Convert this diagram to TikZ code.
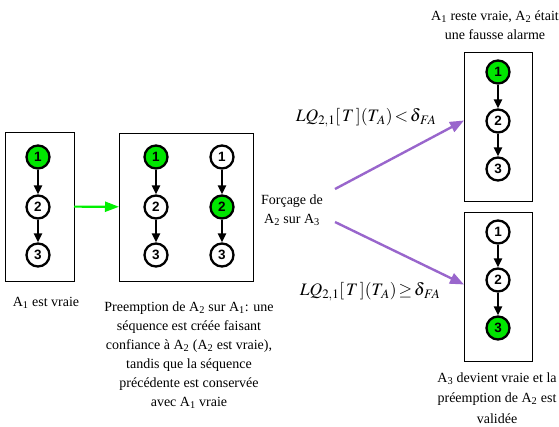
\documentclass[tikz,border=0pt]{standalone}
\usepackage{mathptmx}
\usepackage{fontspec}
\setmainfont{Liberation Serif}
\newfontfamily\statefont{Liberation Sans}
\usetikzlibrary{arrows.meta}

\definecolor{stategreen}{RGB}{0,230,0}
\definecolor{arrowgreen}{RGB}{0,240,0}
\definecolor{forcepurple}{RGB}{153,102,204}

\newcommand{\Asub}[1]{A\textsubscript{#1}}

\tikzset{
    state/.style={circle, draw, line width=2.3pt, minimum size=23pt, inner sep=0pt, fill=white,
        font=\statefont\bfseries\fontsize{13.5}{13.5}\selectfont},
    active/.style={state, fill=stategreen},
    panel/.style={draw, line width=0.9pt, inner sep=0pt, outer sep=0pt,
        minimum width=69pt, minimum height=149pt},
    link/.style={-{Triangle[length=9pt, width=8pt]}, line width=2.3pt},
    caption/.style={align=center, font=\fontsize{14}{19}\selectfont},
    formula/.style={font=\fontsize{17.5}{19}\selectfont},
}

\begin{document}
\begin{tikzpicture}[x=1pt, y=-1pt]
    \useasboundingbox (0,0) rectangle (559,426);

    % panels
    \node[panel] (box1) at (39.5, 206.5) {};
    \node[panel, minimum width=134pt, minimum height=148pt] (box2) at (186, 207) {};
    \node[panel, minimum width=68pt] (box3) at (498, 126.5) {};
    \node[panel, minimum width=68pt] (box4) at (498, 286.5) {};

    % A1 vraie
    \node[active] (p1) at (38, 157) {1};
    \node[state] (p2) at (38, 207) {2};
    \node[state] (p3) at (38, 255) {3};
    \draw[link] (p1) -- (p2);
    \draw[link] (p2) -- (p3);

    % preemption : deux sequences
    \node[active] (q1) at (156, 157) {1};
    \node[state] (q2) at (156, 207) {2};
    \node[state] (q3) at (156, 255) {3};
    \draw[link] (q1) -- (q2);
    \draw[link] (q2) -- (q3);
    \node[state] (r1) at (222, 157) {1};
    \node[active] (r2) at (222, 207) {2};
    \node[state] (r3) at (222, 255) {3};
    \draw[link] (r1) -- (r2);
    \draw[link] (r2) -- (r3);

    % fausse alarme
    \node[active] (s1) at (498, 72) {1};
    \node[state] (s2) at (498, 121) {2};
    \node[state] (s3) at (498, 169) {3};
    \draw[link] (s1) -- (s2);
    \draw[link] (s2) -- (s3);

    % preemption validee
    \node[state] (t1) at (498, 232) {1};
    \node[state] (t2) at (498, 280) {2};
    \node[active] (t3) at (498, 328) {3};
    \draw[link] (t1) -- (t2);
    \draw[link] (t2) -- (t3);

    % textes
    \node[caption] (cap1) at (46, 303) {\Asub{1} est vraie};
    \node[caption] (cap2) at (189, 355) {Preemption de \Asub{2} sur \Asub{1}: une\\
        séquence est créée faisant\\ confiance à \Asub{2} (\Asub{2} est vraie),\\
        tandis que la séquence\\ précédente est conservée\\ avec \Asub{1} vraie};
    \node[caption] (cap3) at (495, 25) {\Asub{1} reste vraie, \Asub{2} était\\ une fausse alarme};
    \node[caption, font=\fontsize{14}{20.5}\selectfont] (cap4) at (497, 398)
        {\Asub{3} devient vraie et la\\ préemption de \Asub{2} est\\ validée};
    \node[caption] (force) at (292, 210) {Forçage de\\ \Asub{2} sur \Asub{3}};
    \node[formula] (lqlow) at (366, 118) {$LQ_{2,1}[\,T\,](T_{\,A})\mskip2mu{<}\mskip2mu\delta_{\,FA}$};
    \node[formula] (lqhigh) at (370, 292) {$LQ_{2,1}[\,T\,](T_{\,A})\mskip2mu{\geq}\mskip2mu\delta_{\,FA}$};

    % fleches
    \draw[-{Triangle[length=14pt, width=10pt]}, line width=2.2pt, arrowgreen] (box1) -- (box2);
    \coordinate (fu) at (335, 189);
    \coordinate (fd) at (335, 222);
    \draw[-{Triangle[length=14pt, width=11pt]}, line width=2.4pt, forcepurple] (fu) -- ([yshift=6pt]box3.west);
    \draw[-{Triangle[length=14pt, width=11pt]}, line width=2.4pt, forcepurple] (fd) -- ([yshift=2pt]box4.west);
\end{tikzpicture}
\end{document}
